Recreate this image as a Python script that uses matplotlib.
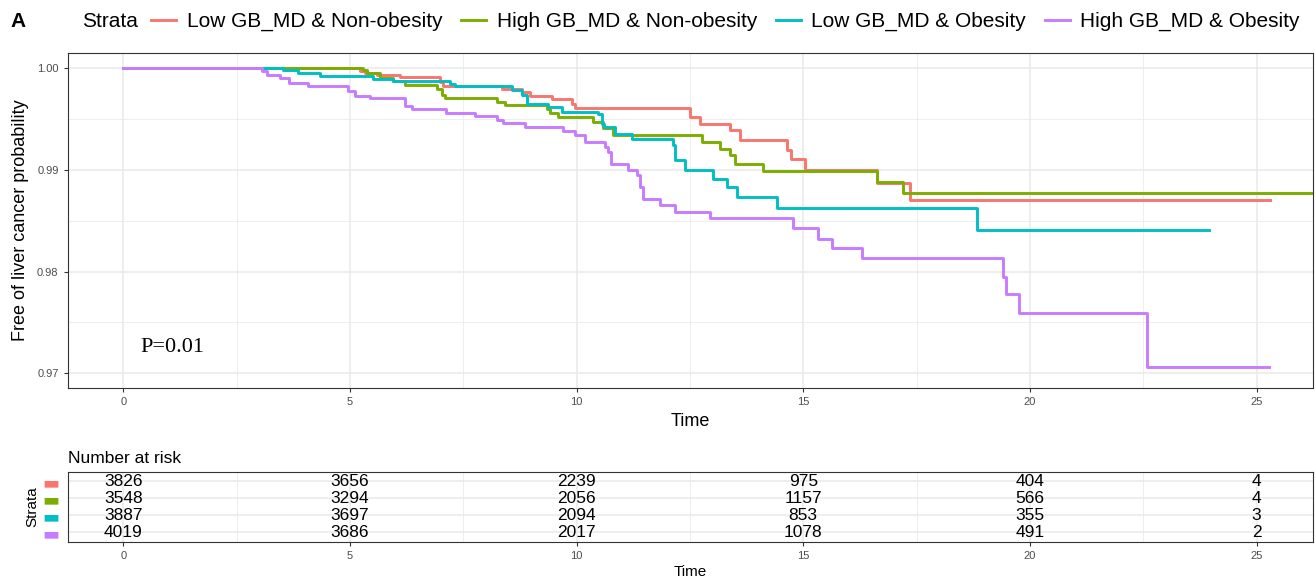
import matplotlib
matplotlib.use("Agg")
import matplotlib.pyplot as plt
from matplotlib.lines import Line2D

plt.rcParams['font.family'] = ['Liberation Sans', 'DejaVu Sans']

# strata and colours (ggplot hue palette)
strata = ["Low GB_MD & Non-obesity", "High GB_MD & Non-obesity",
          "Low GB_MD & Obesity", "High GB_MD & Obesity"]
colors = ["#F8766D", "#7CAE00", "#00BFC4", "#C77CFF"]

# KM step curves: event times and survival after each event, plus end of follow-up
red_t = [0, 5.22, 5.33, 5.60, 6.10, 6.99, 7.05, 8.35, 8.80, 8.97, 9.46, 9.90, 9.96,
         12.50, 12.72, 13.38, 13.60, 14.64, 14.73, 15.04, 16.63, 17.36]
red_s = [1.0, 0.99977, 0.99954, 0.99936, 0.99912, 0.99862, 0.99830, 0.99796, 0.99764,
         0.99732, 0.99698, 0.99649, 0.99607, 0.99521, 0.99456, 0.99390, 0.99292,
         0.99194, 0.99112, 0.98997, 0.98876, 0.98709]
red_end = 25.30

green_t = [0, 5.29, 5.37, 5.66, 5.95, 6.21, 6.92, 7.03, 7.10, 8.24, 8.42, 9.35, 9.41,
           9.59, 10.36, 10.58, 10.80, 12.76, 13.16, 13.38, 13.49, 14.11, 16.63, 17.20]
green_s = [1.0, 0.99980, 0.99956, 0.99905, 0.99872, 0.99840, 0.99800, 0.99741, 0.99708,
           0.99669, 0.99636, 0.99604, 0.99564, 0.99521, 0.99472, 0.99410, 0.99346,
           0.99275, 0.99210, 0.99145, 0.99063, 0.98987, 0.98879, 0.98774]
green_end = 26.6

cyan_t = [0, 3.52, 3.85, 4.34, 5.51, 5.95, 7.21, 7.32, 8.57, 8.80, 8.91, 9.37, 9.68,
          10.47, 10.56, 10.60, 10.85, 11.22, 12.13, 12.17, 12.39, 13.01, 13.32, 13.54,
          14.42, 18.83]
cyan_s = [1.0, 0.99987, 0.99954, 0.99921, 0.99892, 0.99872, 0.99846, 0.99828, 0.99784,
          0.99735, 0.99653, 0.99619, 0.99570, 0.99555, 0.99456, 0.99423, 0.99358,
          0.99309, 0.99243, 0.99095, 0.99004, 0.98912, 0.98833, 0.98735, 0.98623, 0.98407]
cyan_end = 23.96

purple_t = [0, 3.05, 3.16, 3.46, 3.65, 4.08, 4.96, 5.11, 5.44, 6.21, 6.36, 7.13, 7.76,
            8.24, 8.38, 8.86, 9.71, 9.96, 10.19, 10.63, 10.70, 10.77, 11.14, 11.33,
            11.40, 11.47, 11.84, 12.17, 12.94, 14.77, 15.32, 15.63, 16.29, 19.41,
            19.47, 19.76, 22.58]
purple_s = [1.0, 0.99977, 0.99934, 0.99902, 0.99855, 0.99823, 0.99781, 0.99732, 0.99708,
            0.99631, 0.99597, 0.99564, 0.99531, 0.99489, 0.99462, 0.99423, 0.99383,
            0.99341, 0.99275, 0.99226, 0.99177, 0.99063, 0.99004, 0.98948, 0.98833,
            0.98719, 0.98653, 0.98587, 0.98528, 0.98424, 0.98325, 0.98233, 0.98129,
            0.97948, 0.97775, 0.97588, 0.97063]
purple_end = 25.28

curves = [(red_t, red_s, red_end), (green_t, green_s, green_end),
          (cyan_t, cyan_s, cyan_end), (purple_t, purple_s, purple_end)]

# number at risk table
risk_times = [0, 5, 10, 15, 20, 25]
risk_red = [3826, 3656, 2239, 975, 404, 4]
risk_green = [3548, 3294, 2056, 1157, 566, 4]
risk_cyan = [3887, 3697, 2094, 853, 355, 3]
risk_purple = [4019, 3686, 2017, 1078, 491, 2]
risk = [risk_red, risk_green, risk_cyan, risk_purple]

xticks = [0, 5, 10, 15, 20, 25]
yticks = [0.97, 0.98, 0.99, 1.00]
xlim = (-1.227, 26.245)

fig = plt.figure(figsize=(13.16, 5.82), dpi=100)
ax = fig.add_axes([0.0514, 0.3328, 0.9463, 0.5761])
tab = fig.add_axes([0.0514, 0.0693, 0.9463, 0.1203])


def bw_style(a):
    a.set_facecolor("white")
    for sp in a.spines.values():
        sp.set_color("#333333")
        sp.set_linewidth(0.8)
    a.tick_params(colors="#333333", labelcolor="#4D4D4D", labelsize=8,
                  length=3, width=0.8)
    a.set_axisbelow(True)


# main survival plot
bw_style(ax)
for v in [2.5, 7.5, 12.5, 17.5, 22.5]:
    ax.axvline(v, color="#EBEBEB", lw=0.6, zorder=0)
for v in [0.975, 0.985, 0.995]:
    ax.axhline(v, color="#EBEBEB", lw=0.6, zorder=0)
for v in xticks:
    ax.axvline(v, color="#EBEBEB", lw=1.2, zorder=0)
for v in yticks:
    ax.axhline(v, color="#EBEBEB", lw=1.2, zorder=0)

for (t, s, end), c in zip(curves, colors):
    ax.step(t + [end], s + [s[-1]], where="post", color=c, lw=2.1, zorder=3)

ax.set_xlim(*xlim)
ax.set_ylim(0.96852, 1.0015)
ax.set_xticks(xticks)
ax.set_yticks(yticks)
ax.set_yticklabels(["0.97", "0.98", "0.99", "1.00"])
ax.set_xlabel("Time", fontsize=13, labelpad=4)
ax.set_ylabel("Free of liver cancer probability", fontsize=13, labelpad=6)
ax.text(0.37, 0.97257, "P=0.01", fontsize=16, family="Liberation Serif",
        va="center", ha="left")

# legend across the top
fig.text(0.008, 0.963, "A", fontsize=15, fontweight="bold", va="center")
fig.text(0.0623, 0.963, "Strata", fontsize=15, va="center")
handles = [Line2D([], [], color=c, lw=2.1) for c in colors]
fig.legend(handles, strata, ncol=4, loc="center left",
           bbox_to_anchor=(0.115, 0.963), frameon=False, fontsize=15,
           handlelength=1.2, handletextpad=0.5, columnspacing=0.9,
           borderpad=0, borderaxespad=0)

# risk table
bw_style(tab)
rows = [4, 3, 2, 1]
for v in [2.5, 7.5, 12.5, 17.5, 22.5]:
    tab.axvline(v, color="#EBEBEB", lw=0.6, zorder=0)
for v in xticks:
    tab.axvline(v, color="#EBEBEB", lw=1.2, zorder=0)
for r in rows:
    tab.axhline(r, color="#EBEBEB", lw=1.2, zorder=0)
for vals, r in zip(risk, rows):
    for t, n in zip(risk_times, vals):
        tab.text(t, r, str(n), ha="center", va="center", fontsize=12.5, zorder=3)
tab.set_xlim(*xlim)
tab.set_ylim(0.45, 4.55)
tab.set_xticks(xticks)
tab.set_yticks(rows)
tab.set_yticklabels(["\u25AC"] * 4, fontsize=13, family="DejaVu Sans")
for lab, c in zip(tab.get_yticklabels(), colors):
    lab.set_color(c)
tab.tick_params(axis="y", length=0, pad=6)
tab.set_xlabel("Time", fontsize=11, labelpad=3)
tab.set_ylabel("Strata", fontsize=11, labelpad=2)
tab.set_title("Number at risk", fontsize=12.5, loc="left", pad=6, x=0.0)

fig.savefig("out.png", dpi=100)
